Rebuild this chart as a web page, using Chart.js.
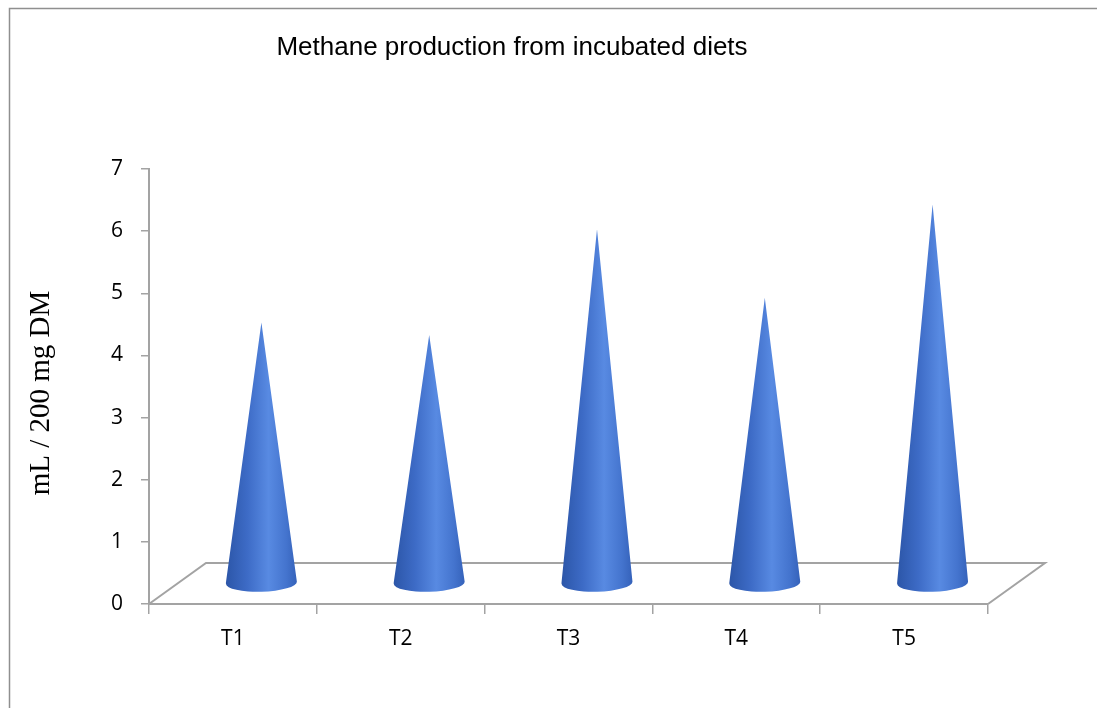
<!DOCTYPE html>
<html>
<head>
<meta charset="utf-8">
<script src="https://cdn.jsdelivr.net/npm/chart.js@4.4.1/dist/chart.umd.min.js"></script>
<style>
  html, body { margin: 0; padding: 0; background: #fff; overflow: hidden; }
  #wrap { width: 1097px; height: 708px; }
</style>
</head>
<body>
<div id="wrap"><canvas id="grafica_metano" width="1097" height="708"></canvas></div>
<script>
// datos
const tratamientos = ['T1', 'T2', 'T3', 'T4', 'T5'];
const metano = [4.2, 4.0, 5.7, 4.6, 6.1];   // mL / 200 mg DM
const y_min = 0;
const y_max = 7;
const y_paso = 1;

const titulo = 'Methane production from incubated diets';
const titulo_y = 'mL / 200 mg DM';

// profundidad del piso 3D (px)
const PROF_X = 57;
const PROF_Y = 41;
const GRIS = '#a3a3a3';

const conos = {
    id: 'conos',
    beforeDraw(chart) {
        const ctx = chart.ctx;
        ctx.save();
        ctx.fillStyle = '#fff';
        ctx.fillRect(0, 0, chart.width, chart.height);
        // marco exterior
        ctx.strokeStyle = '#8f8f8f';
        ctx.lineWidth = 1.5;
        ctx.strokeRect(9.5, 8.5, 1300, 900);
        ctx.restore();
    },
    beforeDatasetsDraw(chart) {
        // piso en perspectiva
        const ctx = chart.ctx;
        const a = chart.chartArea;
        const y0 = chart.scales.y.getPixelForValue(0);
        ctx.save();
        ctx.strokeStyle = GRIS;
        ctx.lineWidth = 2;
        ctx.beginPath();
        ctx.moveTo(a.left, y0);
        ctx.lineTo(a.left + PROF_X, y0 - PROF_Y);
        ctx.lineTo(a.right + PROF_X, y0 - PROF_Y);
        ctx.lineTo(a.right, y0);
        ctx.stroke();
        ctx.restore();
    },
    afterDatasetsDraw(chart) {
        const ctx = chart.ctx;
        const meta = chart.getDatasetMeta(0);
        meta.data.forEach(bar => {
            const p = bar.getProps(['x', 'y', 'base', 'width'], true);
            const cx = p.x + PROF_X / 2;
            const punta = p.y - PROF_Y / 2;
            const by = p.base - PROF_Y / 2;
            const rx = p.width / 2;
            const ry = 9;
            const grad = ctx.createLinearGradient(cx - rx, 0, cx + rx, 0);
            grad.addColorStop(0, '#2c56a8');
            grad.addColorStop(0.3, '#3d6bc6');
            grad.addColorStop(0.6, '#588ae2');
            grad.addColorStop(0.85, '#4474ce');
            grad.addColorStop(1, '#3562ba');
            ctx.save();
            ctx.fillStyle = grad;
            ctx.beginPath();
            ctx.moveTo(cx, punta);
            ctx.lineTo(cx - rx, by);
            ctx.ellipse(cx, by, rx, ry, -0.03, Math.PI, 0, true);
            ctx.lineTo(cx, punta);
            ctx.closePath();
            ctx.fill();
            ctx.restore();
        });
    },
    afterDraw(chart) {
        const ctx = chart.ctx;
        ctx.save();
        ctx.fillStyle = '#000';
        ctx.font = '26px "Liberation Sans", Arial, sans-serif';
        ctx.textAlign = 'center';
        ctx.textBaseline = 'middle';
        ctx.fillText(titulo, 512, 48);
        // titulo del eje y
        ctx.translate(41, 393);
        ctx.rotate(-Math.PI / 2);
        ctx.font = '29px "Liberation Serif", "Times New Roman", serif';
        ctx.fillText(titulo_y, 0, 0);
        ctx.restore();
    }
};

const ctx_metano = document.getElementById('grafica_metano').getContext('2d');

new Chart(ctx_metano, {
    type: 'bar',
    data: {
        labels: tratamientos,
        datasets: [{
            label: 'Metano',
            data: metano,
            backgroundColor: 'rgba(0,0,0,0)',
            borderWidth: 0,
            categoryPercentage: 1,
            barPercentage: 0.423
        }]
    },
    options: {
        responsive: false,
        animation: false,
        layout: {
            padding: { top: 169, right: 109, bottom: 0, left: 0 }
        },
        scales: {
            x: {
                offset: true,
                grid: {
                    offset: true,
                    drawOnChartArea: false,
                    tickLength: 10,
                    color: GRIS,
                    lineWidth: 1.5
                },
                border: { color: GRIS, width: 2 },
                ticks: {
                    color: '#000',
                    padding: 12,
                    font: { family: '"Open Sans", sans-serif', size: 21 }
                },
                afterFit(scale) { scale.height = 104; }
            },
            y: {
                min: y_min,
                max: y_max,
                grid: {
                    drawOnChartArea: false,
                    tickLength: 8,
                    color: GRIS,
                    lineWidth: 1.5
                },
                border: { color: GRIS, width: 2 },
                ticks: {
                    stepSize: y_paso,
                    color: '#000',
                    padding: 18,
                    font: { family: '"Open Sans", sans-serif', size: 21 }
                },
                afterFit(scale) { scale.width = 149; }
            }
        },
        plugins: {
            legend: { display: false },
            title: { display: false },
            tooltip: { enabled: false }
        }
    },
    plugins: [conos]
});
</script>
</body>
</html>
